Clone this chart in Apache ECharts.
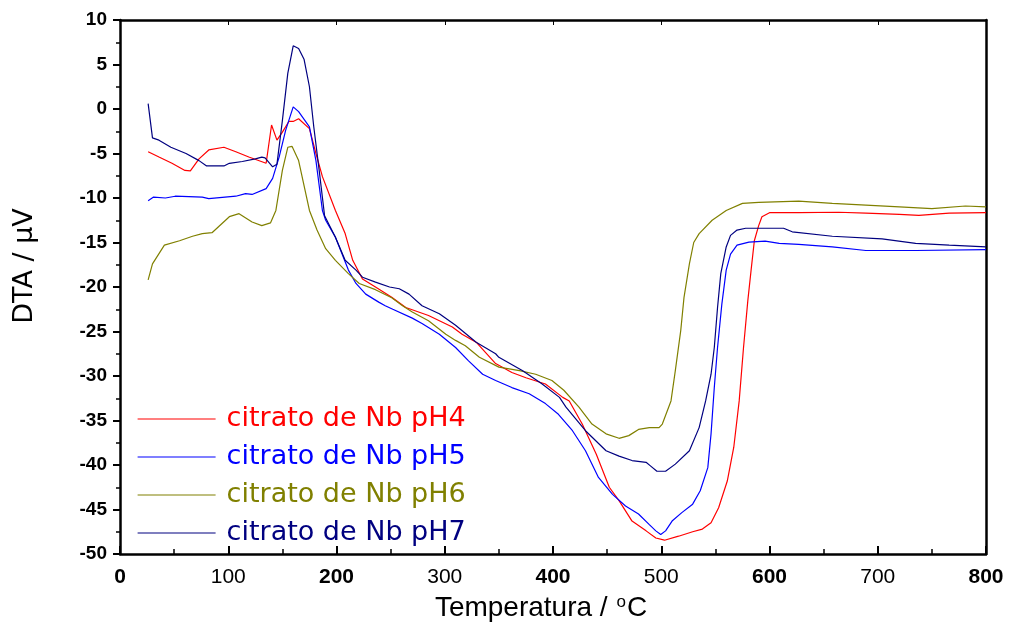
<!DOCTYPE html>
<html>
<head>
<meta charset="utf-8">
<script src="https://cdn.jsdelivr.net/npm/echarts@6/dist/echarts.min.js"></script>
<style>
html,body{margin:0;padding:0;background:#fff;}
#chart{width:1012px;height:632px;}
</style>
</head>
<body>
<div id="chart"></div>
<script>
// Temperature (°C) / DTA (µV) pairs
const seriesNames = ['citrato de Nb pH4', 'citrato de Nb pH5', 'citrato de Nb pH6', 'citrato de Nb pH7'];
const seriesColors = ['#ff0000', '#0000ff', '#808000', '#000080'];

const pH4Data = [[26,-4.8],[36,-5.4],[48,-6.1],[60,-6.9],[65,-6.95],[73,-5.6],[82,-4.6],[96,-4.3],[107,-4.8],[119,-5.4],[135,-6.1],[140,-1.8],[145,-3.5],[150,-2.6],[156,-1.4],[160,-1.4],[165,-1.1],[175,-2.2],[181,-5.0],[187,-7.6],[199,-11.4],[208,-14.0],[215,-17.0],[224,-19.1],[236,-20.0],[251,-21.15],[264,-22.3],[285,-23.2],[307,-24.5],[316,-25.3],[329,-26.2],[347,-28.6],[362,-29.6],[375,-30.2],[393,-30.9],[409,-32.4],[415,-32.8],[427,-35.4],[440,-38.8],[452,-42.5],[461,-44.0],[473,-46.3],[486,-47.4],[495,-48.2],[503,-48.45],[516,-48.0],[529,-47.5],[538,-47.2],[546,-46.5],[553,-44.8],[561,-41.8],[567,-38.0],[572,-32.8],[576,-26.8],[580,-21.5],[583,-18.1],[586,-14.8],[590,-13.1],[593,-12.1],[600,-11.65],[627,-11.65],[664,-11.6],[689,-11.7],[720,-11.84],[738,-11.95],[766,-11.7],[800,-11.65]];

const pH5Data = [[26,-10.3],[31,-9.9],[42,-10.0],[51,-9.8],[76,-9.9],[82,-10.07],[107,-9.8],[116,-9.5],[122,-9.6],[135,-8.95],[141,-7.8],[147,-5.4],[153,-2.4],[160,0.24],[165,-0.3],[175,-2.0],[181,-5.8],[187,-11.4],[190,-12.5],[199,-14.4],[211,-18.1],[218,-19.6],[227,-20.8],[239,-21.7],[245,-22.1],[252,-22.5],[270,-23.5],[279,-24.1],[295,-25.3],[310,-26.8],[322,-28.3],[335,-29.8],[347,-30.5],[362,-31.3],[378,-32.0],[393,-33.1],[405,-34.3],[418,-36.15],[430,-38.4],[442,-41.4],[455,-43.3],[467,-44.6],[479,-45.5],[489,-46.7],[495,-47.4],[499.5,-47.8],[504,-47.4],[510,-46.3],[519,-45.35],[529,-44.4],[536,-42.9],[543,-40.3],[546,-36.5],[549,-31.3],[552,-26.8],[556,-21.9],[560,-18.1],[564,-16.3],[570,-15.3],[581,-14.96],[596,-14.85],[609,-15.1],[627,-15.2],[658,-15.5],[689,-15.9],[735,-15.9],[800,-15.8]];

const pH6Data = [[26,-19.2],[30,-17.4],[41,-15.3],[55,-14.8],[67,-14.3],[76,-14.0],[85,-13.9],[101,-12.1],[110,-11.76],[122,-12.7],[131,-13.1],[139,-12.8],[144,-11.4],[150,-6.9],[155,-4.3],[159,-4.2],[165,-5.8],[175,-11.4],[182,-13.6],[190,-15.7],[199,-17.0],[211,-18.5],[221,-19.6],[236,-20.3],[251,-21.2],[261,-22.1],[270,-22.8],[285,-23.8],[301,-25.3],[310,-26.0],[319,-26.6],[332,-27.9],[350,-29.0],[369,-29.4],[384,-29.8],[399,-30.5],[410,-31.6],[424,-33.5],[436,-35.4],[449,-36.5],[461,-37.0],[470,-36.7],[479,-36.0],[489,-35.8],[498,-35.8],[501,-35.4],[509,-32.8],[513,-29.4],[518,-24.9],[521,-21.2],[526,-17.4],[530,-15.0],[535,-14.0],[547,-12.5],[560,-11.4],[575,-10.6],[590,-10.5],[627,-10.35],[658,-10.6],[689,-10.8],[720,-11.0],[750,-11.2],[781,-10.9],[800,-11.0]];

const pH7Data = [[26,0.6],[30,-3.25],[36,-3.5],[47,-4.3],[61,-5.0],[73,-5.8],[80,-6.4],[96,-6.4],[101,-6.1],[113,-5.9],[125,-5.6],[131,-5.4],[134,-5.5],[141,-6.5],[145,-6.2],[150,-1.3],[155,4.0],[160,7.1],[165,6.8],[170,5.6],[175,2.5],[179,-2.0],[184,-6.9],[189,-12.0],[199,-14.4],[208,-17.0],[218,-18.1],[224,-18.9],[236,-19.45],[249,-20.0],[258,-20.2],[267,-20.8],[279,-22.1],[295,-23.0],[310,-24.3],[329,-26.2],[347,-27.5],[350,-27.9],[372,-29.4],[390,-30.9],[406,-32.4],[412,-33.5],[430,-36.15],[449,-38.4],[461,-39.0],[473,-39.5],[486,-39.7],[490,-40.1],[496,-40.7],[504,-40.7],[513,-39.9],[526,-38.4],[535,-35.8],[541,-32.8],[546,-29.8],[549,-26.8],[552,-22.3],[555,-18.5],[560,-15.5],[564,-14.2],[570,-13.6],[578,-13.4],[613,-13.4],[621,-13.8],[658,-14.3],[704,-14.6],[735,-15.1],[766,-15.3],[800,-15.5]];

const allData = [pH4Data, pH5Data, pH6Data, pH7Data];

const xMin = 0, xMax = 800, xStep = 100;
const yMin = -50, yMax = 10, yStep = 5;
const boldXTicks = [0, 200, 400, 600, 800];

const chart = echarts.init(document.getElementById('chart'), null, {renderer: 'canvas'});

const sansFont = '"Liberation Sans", Arial, sans-serif';

const option = {
  animation: false,
  backgroundColor: '#ffffff',
  grid: {left: 120, right: 26, top: 20, bottom: 78, containLabel: false},
  legend: {
    orient: 'vertical',
    left: 132,
    top: 400,
    itemWidth: 78,
    itemHeight: 14,
    itemGap: 10,
    selectedMode: false,
    itemStyle: {opacity: 0},
    lineStyle: {width: 1.2},
    textStyle: {fontFamily: '"DejaVu Sans", sans-serif', fontSize: 27, lineHeight: 28, padding: [0, 0, 0, 6]},
    data: seriesNames.map((n, i) => ({name: n, textStyle: {color: seriesColors[i]}}))
  },
  xAxis: [{
    type: 'value', min: xMin, max: xMax, interval: xStep, position: 'bottom',
    name: 'Temperatura / {sup|o}C', nameLocation: 'middle', nameGap: 40,
    nameTextStyle: {fontFamily: sansFont, fontSize: 28, color: '#000', padding: [0, 24, 0, 0],
      rich: {sup: {fontFamily: sansFont, fontSize: 17, color: '#000', verticalAlign: 'top', padding: [0, 1, 10, 1]}}},
    axisLine: {show: true, onZero: false, lineStyle: {color: '#000', width: 2.5}},
    axisTick: {show: true, inside: true, length: 8, lineStyle: {color: '#000', width: 2}},
    minorTick: {show: true, splitNumber: 2, length: 5, lineStyle: {color: '#000', width: 1.5}},
    splitLine: {show: false},
    axisLabel: {
      margin: 13, fontFamily: sansFont, fontSize: 21, color: '#000',
      formatter: v => boldXTicks.includes(v) ? '{b|' + v + '}' : '{r|' + v + '}',
      rich: {b: {fontWeight: 'bold', fontSize: 21, fontFamily: sansFont, color: '#000'},
             r: {fontWeight: 'normal', fontSize: 21, fontFamily: sansFont, color: '#000'}}
    }
  }, {
    type: 'value', min: xMin, max: xMax, interval: xStep, position: 'top',
    axisLine: {show: true, onZero: false, lineStyle: {color: '#000', width: 2.5}},
    axisTick: {show: true, inside: true, length: 5, lineStyle: {color: '#000', width: 1}},
    axisLabel: {show: false}, splitLine: {show: false}
  }],
  yAxis: [{
    type: 'value', min: yMin, max: yMax, interval: yStep, position: 'left',
    name: 'DTA / μV', nameLocation: 'middle', nameGap: 82,
    nameTextStyle: {fontFamily: '"DejaVu Sans", sans-serif', fontSize: 27, color: '#000', padding: [0, 0, 0, 42]},
    axisLine: {show: true, onZero: false, lineStyle: {color: '#000', width: 2.5}},
    axisTick: {show: true, inside: false, length: 7, lineStyle: {color: '#000', width: 2}},
    minorTick: {show: true, splitNumber: 2, length: 4, lineStyle: {color: '#000', width: 1.5}},
    splitLine: {show: false},
    axisLabel: {margin: 13, fontFamily: sansFont, fontSize: 19, fontWeight: 'bold', color: '#000'}
  }, {
    type: 'value', min: yMin, max: yMax, interval: yStep, position: 'right',
    axisLine: {show: true, onZero: false, lineStyle: {color: '#000', width: 2.5}},
    axisTick: {show: false}, axisLabel: {show: false}, splitLine: {show: false}
  }],
  series: allData.map((d, i) => ({
    name: seriesNames[i],
    type: 'line',
    xAxisIndex: 0,
    yAxisIndex: 0,
    data: d,
    symbol: 'none',
    showSymbol: false,
    smooth: false,
    lineStyle: {color: seriesColors[i], width: 1.2},
    itemStyle: {color: seriesColors[i]},
    z: 2
  }))
};

chart.setOption(option);
</script>
</body>
</html>
